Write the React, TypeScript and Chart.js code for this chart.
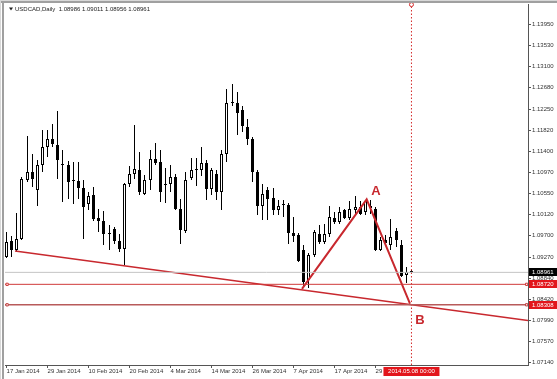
import React, { useEffect, useRef } from 'react';
import { Chart, registerables } from 'chart.js';

Chart.register(...registerables);

// ---------- data ----------
const symbolTitle = 'USDCAD,Daily';
const currentOHLC = ['1.08986', '1.09011', '1.08956', '1.08961'];

const opens = [
  1.09272, 1.09594, 1.09421, 1.09628, 1.10828, 1.10981, 1.10613, 1.11116, 1.11483, 1.11652,
  1.11532, 1.11126, 1.11116, 1.10804, 1.10800, 1.10667, 1.10332, 1.10513, 1.10056, 1.09996,
  1.09749, 1.09829, 1.09594, 1.09441, 1.10748, 1.10949, 1.11029, 1.10547, 1.10814, 1.11250,
  1.11182, 1.10738, 1.10734, 1.10880, 1.10245, 1.09795, 1.10868, 1.11025, 1.11015, 1.11162,
  1.10647, 1.10935, 1.10579, 1.11337, 1.12372, 1.12368, 1.12235, 1.11885, 1.11652, 1.10981,
  1.10291, 1.10627, 1.10452, 1.10211, 1.10326, 1.10312, 1.09755, 1.09709, 1.09407, 1.08804,
  1.09307, 1.09729, 1.09574, 1.09729, 1.10064, 1.09976, 1.10211, 1.10064, 1.10211, 1.10277,
  1.10177, 1.10250, 1.10245, 1.09407, 1.09608, 1.09508, 1.09789, 1.09508, 1.08905, 1.08986,
];
const highs = [
  1.09775, 1.09688, 1.10157, 1.10874, 1.11698, 1.11351, 1.11216, 1.11819, 1.11833, 1.11954,
  1.12207, 1.11417, 1.11202, 1.11182, 1.11182, 1.10814, 1.10579, 1.10679, 1.10245, 1.10197,
  1.09910, 1.09875, 1.09743, 1.10760, 1.11095, 1.11920, 1.11383, 1.10915, 1.11417, 1.11564,
  1.11417, 1.11069, 1.11116, 1.10949, 1.10446, 1.10981, 1.11270, 1.11270, 1.11483, 1.11216,
  1.11069, 1.11029, 1.11431, 1.12657, 1.12744, 1.12589, 1.12301, 1.12054, 1.11684, 1.11015,
  1.10748, 1.10679, 1.10653, 1.10412, 1.10412, 1.10358, 1.10076, 1.09755, 1.09508, 1.09341,
  1.09809, 1.09910, 1.09944, 1.10291, 1.10177, 1.10277, 1.10245, 1.10398, 1.10492, 1.10398,
  1.10426, 1.10412, 1.10277, 1.09674, 1.09709, 1.10030, 1.09849, 1.09608, 1.09071, 1.09011,
];
const lows = [
  1.09246, 1.09272, 1.09373, 1.09608, 1.10780, 1.10679, 1.10291, 1.10981, 1.11282, 1.11483,
  1.10848, 1.10378, 1.10446, 1.10346, 1.10446, 1.09642, 1.10211, 1.09996, 1.09775, 1.09508,
  1.09407, 1.09528, 1.09373, 1.09106, 1.10679, 1.10848, 1.10513, 1.10513, 1.10613, 1.11116,
  1.10378, 1.10358, 1.10579, 1.10225, 1.09542, 1.09755, 1.10814, 1.10693, 1.10894, 1.10412,
  1.10513, 1.10412, 1.10225, 1.11182, 1.12301, 1.11719, 1.11785, 1.11518, 1.10780, 1.10111,
  1.10010, 1.10010, 1.10111, 1.10111, 1.10076, 1.09542, 1.09574, 1.09172, 1.08663, 1.08637,
  1.09272, 1.09542, 1.09542, 1.09674, 1.09944, 1.09944, 1.10044, 1.10024, 1.10145, 1.10111,
  1.10111, 1.10131, 1.09393, 1.09393, 1.09508, 1.09407, 1.09467, 1.08864, 1.08738, 1.08956,
];
const closes = [
  1.09574, 1.09421, 1.09642, 1.10848, 1.10981, 1.10848, 1.11116, 1.11483, 1.11652, 1.11552,
  1.11216, 1.11116, 1.10780, 1.10794, 1.10667, 1.10277, 1.10492, 1.10044, 1.09996, 1.09729,
  1.09739, 1.09594, 1.09441, 1.10748, 1.10949, 1.11049, 1.10579, 1.10814, 1.11250, 1.11162,
  1.10579, 1.10730, 1.10880, 1.10245, 1.09823, 1.10828, 1.11029, 1.11035, 1.11162, 1.10647,
  1.11015, 1.10579, 1.11337, 1.12368, 1.12362, 1.12167, 1.11899, 1.11652, 1.10981, 1.10291,
  1.10547, 1.10446, 1.10211, 1.10291, 1.10320, 1.09755, 1.09688, 1.09192, 1.08770, 1.09307,
  1.09775, 1.09574, 1.09729, 1.10076, 1.09976, 1.10177, 1.10064, 1.10245, 1.10277, 1.10145,
  1.10398, 1.10300, 1.09407, 1.09608, 1.09554, 1.09678, 1.09608, 1.08884, 1.08971, 1.08961,
];

const dateTickBars = [0, 8, 16, 24, 32, 40, 48, 56, 64, 72];
const dateTickLabels = [
  '17 Jan 2014', '29 Jan 2014', '10 Feb 2014', '20 Feb 2014', '4 Mar 2014',
  '14 Mar 2014', '26 Mar 2014', '7 Apr 2014', '17 Apr 2014', '29 Apr 2014',
];
const priceTicks = [
  1.1395, 1.1353, 1.131, 1.1268, 1.1225, 1.1182, 1.114, 1.1097, 1.1055,
  1.1012, 1.097, 1.0927, 1.0884, 1.0842, 1.0799, 1.0757, 1.0714,
];

const bidPrice = 1.08961;
const levelPrices = [1.0872, 1.08308];
const levelHandleBars = [0.1, 101.48];
const trendLine = [[1.64, 1.09393], [101.74, 1.0799]];
const abPattern = [[57.64, 1.0863], [70.26, 1.1043], [78.71, 1.0833]];
const abLabels = [
  { text: 'A', bar: 72.08, price: 1.1059 },
  { text: 'B', bar: 80.66, price: 1.08 },
];
const markerBar = 79;
const markerLabel = '2014.05.08 00:00';

const X_MIN = -0.312;
const X_MAX = 101.74;
const Y_MIN = 1.07096;
const Y_MAX = 1.14352;

// ---------- styles ----------
const FONT = 'Liberation Sans';
const RED = '#c8282e';
const BOX_RED = '#e2161c';

const snapPlugin = {
  id: 'pixelSnap',
  afterDatasetsUpdate(chart: any) {
    chart.data.datasets.forEach((ds: any, i: number) => {
      if (ds.type !== 'bar') return;
      const meta = chart.getDatasetMeta(i);
      meta.data.forEach((el: any) => {
        el.x = Math.floor(el.x) + 0.5;
        const top = Math.round(Math.min(el.y, el.base));
        let bottom = Math.round(Math.max(el.y, el.base));
        if (bottom <= top) bottom = top + 1;
        el.y = top;
        el.base = bottom;
      });
    });
  },
};

const overlayPlugin = {
  id: 'mt4overlay',
  beforeDraw(chart: any) {
    const { ctx, width, height } = chart;
    ctx.save();
    ctx.fillStyle = '#ffffff';
    ctx.fillRect(0, 0, width, height);
    ctx.restore();
  },
  afterDraw(chart: any) {
    const { ctx, chartArea: a, scales } = chart;
    const x = scales.x;
    const y = scales.y;
    ctx.save();
    // window frame
    ctx.fillStyle = '#a0a0a0';
    ctx.fillRect(0, 1, chart.width, 2);
    ctx.fillRect(2, 1, 2, chart.height - 1);
    ctx.fillStyle = '#d8d8d8';
    ctx.fillRect(0, 0, chart.width, 1);
    ctx.fillRect(0, 0, 1, chart.height);

    // title
    ctx.fillStyle = '#222';
    ctx.beginPath();
    ctx.moveTo(9, 7.5);
    ctx.lineTo(13, 7.5);
    ctx.lineTo(11, 10.5);
    ctx.closePath();
    ctx.fill();
    ctx.font = `6px "${FONT}"`;
    ctx.textBaseline = 'middle';
    ctx.textAlign = 'left';
    ctx.fillText(`${symbolTitle}  ${currentOHLC.join(' ')}`, 15, 9.5);

    // price boxes on the right axis
    const box = (price: number, bg: string, txt: string) => {
      const py = y.getPixelForValue(price);
      ctx.fillStyle = bg;
      ctx.fillRect(a.right + 1, Math.round(py) - 4, chart.width - a.right - 1, 8);
      ctx.fillStyle = '#ffffff';
      ctx.font = `6px "${FONT}"`;
      ctx.textBaseline = 'middle';
      ctx.textAlign = 'left';
      ctx.fillText(txt, a.right + 4, Math.round(py) + 0.5);
    };
    box(bidPrice, '#000000', bidPrice.toFixed(5));
    levelPrices.forEach((p) => box(p, BOX_RED, p.toFixed(5)));

    // A / B labels
    ctx.fillStyle = RED;
    ctx.font = `bold 13px "${FONT}"`;
    ctx.textAlign = 'center';
    ctx.textBaseline = 'middle';
    abLabels.forEach((l) => {
      ctx.fillText(l.text, x.getPixelForValue(l.bar), y.getPixelForValue(l.price));
    });

    // time marker box
    const mx = x.getPixelForValue(markerBar);
    ctx.fillStyle = BOX_RED;
    ctx.fillRect(mx - 28, a.bottom + 2, 56, 9);
    ctx.fillStyle = '#ffffff';
    ctx.font = `6px "${FONT}"`;
    ctx.textAlign = 'center';
    ctx.fillText(markerLabel, mx, a.bottom + 6.5);
    ctx.restore();
  },
};

export default function App() {
  const ref = useRef<HTMLCanvasElement | null>(null);

  useEffect(() => {
    document.body.style.margin = '0';
    const canvas = ref.current;
    if (!canvas) return;

    const bull = opens.map((o, i) => closes[i] >= o);
    const wickData = opens.map((_, i) => ({ x: i, y: [lows[i], highs[i]] }));
    const bodyData = opens.map((o, i) => ({ x: i, y: [o, closes[i]] }));

    const hLine = (price: number) => [
      { x: X_MIN, y: price },
      { x: levelHandleBars[0], y: price },
      { x: levelHandleBars[1], y: price },
      { x: X_MAX, y: price },
    ];

    const lineBase = {
      type: 'line' as const,
      pointRadius: 0,
      pointHoverRadius: 0,
      fill: false,
      tension: 0,
      order: 0,
    };

    const chart = new Chart(canvas, {
      type: 'bar',
      data: {
        datasets: [
          {
            ...lineBase,
            data: [{ x: X_MIN, y: bidPrice }, { x: X_MAX, y: bidPrice }],
            borderColor: '#c4c4c4',
            borderWidth: 1,
          } as any,
          {
            ...lineBase,
            data: hLine(levelPrices[0]),
            borderColor: '#d03a3a',
            borderWidth: 1,
            pointRadius: [0, 1.6, 1.6, 0],
            pointStyle: 'rect',
            pointBackgroundColor: '#ffffff',
            pointBorderColor: '#d03a3a',
            pointBorderWidth: 1,
          } as any,
          {
            ...lineBase,
            data: hLine(levelPrices[1]),
            borderColor: '#b85a5a',
            borderWidth: 1.5,
            pointRadius: [0, 1.6, 1.6, 0],
            pointStyle: 'rect',
            pointBackgroundColor: '#ffffff',
            pointBorderColor: '#c04040',
            pointBorderWidth: 1,
          } as any,
          {
            ...lineBase,
            data: trendLine.map(([b, p]) => ({ x: b, y: p })),
            borderColor: RED,
            borderWidth: 1.5,
          } as any,
          {
            ...lineBase,
            data: abPattern.map(([b, p]) => ({ x: b, y: p })),
            borderColor: RED,
            borderWidth: 2,
          } as any,
          {
            ...lineBase,
            data: [{ x: markerBar, y: Y_MIN }, { x: markerBar, y: Y_MAX }],
            borderColor: '#d42a2a',
            borderWidth: 1,
            borderDash: [1.5, 2],
            pointRadius: [0, 2],
            pointBackgroundColor: '#ffffff',
            pointBorderColor: '#d42a2a',
            pointBorderWidth: 1,
            clip: false,
          } as any,
          {
            type: 'bar',
            data: bodyData,
            backgroundColor: bull.map((b) => (b ? '#ffffff' : '#000000')),
            borderColor: '#000000',
            borderWidth: 1,
            borderSkipped: false,
            barThickness: 3,
            grouped: false,
            inflateAmount: 0,
            minBarLength: 1,
            order: 1,
          } as any,
          {
            type: 'bar',
            data: wickData,
            backgroundColor: '#000000',
            borderWidth: 0,
            barThickness: 1,
            grouped: false,
            inflateAmount: 0,
            minBarLength: 1,
            order: 2,
          } as any,
        ],
      },
      options: {
        responsive: false,
        animation: false,
        devicePixelRatio: 1,
        events: [],
        layout: { padding: { left: 5, top: 4, right: 0, bottom: 0 } },
        plugins: {
          legend: { display: false },
          tooltip: { enabled: false },
          title: { display: false },
        },
        scales: {
          x: {
            type: 'linear',
            min: X_MIN,
            max: X_MAX,
            offset: false,
            grid: {
              display: true,
              drawOnChartArea: false,
              drawTicks: true,
              tickLength: 3,
              color: '#555555',
              offset: false,
            },
            border: { display: true, color: '#555555', width: 1 },
            afterBuildTicks: (s: any) => {
              s.ticks = dateTickBars.map((v) => ({ value: v }));
            },
            ticks: {
              autoSkip: false,
              maxRotation: 0,
              minRotation: 0,
              align: 'start',
              padding: 0,
              color: '#333333',
              font: { family: FONT, size: 6 },
              callback: (v: any) => {
                const k = dateTickBars.indexOf(Number(v));
                return k >= 0 ? dateTickLabels[k] : '';
              },
            },
            afterFit: (s: any) => {
              s.height = 14;
            },
          },
          y: {
            type: 'linear',
            position: 'right',
            min: Y_MIN,
            max: Y_MAX,
            grid: {
              drawOnChartArea: false,
              drawTicks: true,
              tickLength: 3,
              color: '#555555',
            },
            border: { display: true, color: '#555555', width: 1 },
            afterBuildTicks: (s: any) => {
              s.ticks = priceTicks.map((v) => ({ value: v }));
            },
            ticks: {
              autoSkip: false,
              padding: 1,
              color: '#333333',
              font: { family: FONT, size: 6 },
              callback: (v: any) => Number(v).toFixed(5),
            },
            afterFit: (s: any) => {
              s.width = 29;
            },
          },
        },
      } as any,
      plugins: [snapPlugin, overlayPlugin],
    });

    return () => chart.destroy();
  }, []);

  return (
    <canvas
      ref={ref}
      width={557}
      height={379}
      style={{ display: 'block', width: 557, height: 379 }}
    />
  );
}
